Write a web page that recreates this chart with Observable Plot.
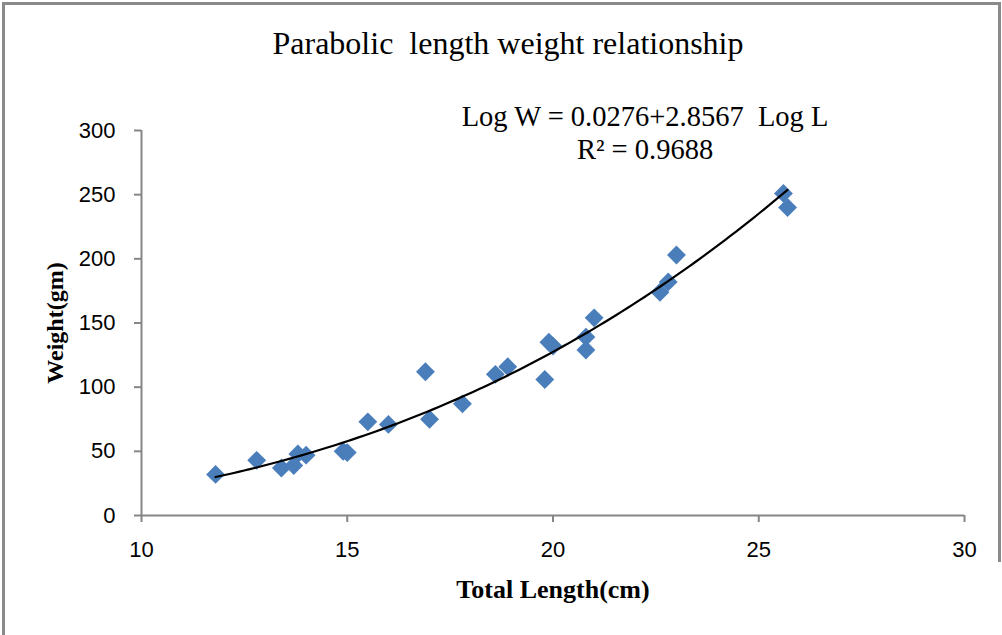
<!DOCTYPE html>
<html>
<head>
<meta charset="utf-8">
<script src="https://cdn.jsdelivr.net/npm/d3@7"></script>
<script src="https://cdn.jsdelivr.net/npm/@observablehq/plot@0.6"></script>
<style>
  html, body { margin: 0; padding: 0; background: white; }
  #wrap { position: relative; width: 1002px; height: 635px; overflow: hidden; }
  .bd { position: absolute; background: #8a8a8a; pointer-events: none; }
  svg text { white-space: pre; }
</style>
</head>
<body>
<div id="wrap">
  <div class="bd" style="left:2px; top:2px; width:998px; height:2.5px;"></div>
  <div class="bd" style="left:2px; top:2px; width:2.5px; height:640px;"></div>
  <div class="bd" style="left:998px; top:2px; width:2.5px; height:560px;"></div>
</div>
<script>
// Total length (cm) and weight (gm)
const lengths = [11.8, 12.8, 13.4, 13.7, 13.8, 14.0, 14.9, 15.0, 15.5, 16.0, 16.9, 17.0, 17.8,
                 18.6, 18.9, 19.8, 19.9, 20.0, 20.8, 20.8, 21.0, 22.6, 22.8, 23.0, 25.6, 25.7];
const weights = [32, 43, 37, 39, 48, 47, 50, 49, 73, 71, 112, 75, 87,
                 110, 116, 106, 135, 132, 139, 129, 154, 174, 182, 203, 251, 240];
const xTicks = [10, 15, 20, 25, 30];
const yTicks = [0, 50, 100, 150, 200, 250, 300];
const titleText = "Parabolic  length weight relationship";
const eqText = "Log W = 0.0276+2.8567  Log L";
const r2Text = "R² = 0.9688";
const xLabel = "Total Length(cm)";
const yLabel = "Weight(gm)";

const data = lengths.map((L, i) => ({L, W: weights[i]}));

// power trend line (least squares in log space, as a spreadsheet power trendline)
const lx = lengths.map(Math.log), ly = weights.map(Math.log);
const mx = d3.mean(lx), my = d3.mean(ly);
const b = d3.sum(lx, (v, i) => (v - mx) * (ly[i] - my)) / d3.sum(lx, v => (v - mx) ** 2);
const a = my - b * mx;
const [L0, L1] = d3.extent(lengths);
const fit = d3.range(0, 101).map(k => {
  const L = L0 + (L1 - L0) * k / 100;
  return {L, W: Math.exp(a) * Math.pow(L, b)};
});

const serif = "'Liberation Serif', 'Times New Roman', serif";
const axisColor = "#868686";

const chart = Plot.plot({
  width: 1002,
  height: 635,
  marginLeft: 141,
  marginRight: 38,
  marginTop: 130,
  marginBottom: 120,
  style: {fontFamily: "'Liberation Sans', Arial, sans-serif", fontSize: "22px", background: "white", color: "black", overflow: "visible"},
  x: {domain: [10, 30]},
  y: {domain: [0, 300]},
  marks: [
    Plot.ruleX([10], {y1: 0, y2: 300, stroke: axisColor, strokeWidth: 2}),
    Plot.ruleY([0], {x1: 10, x2: 30, stroke: axisColor, strokeWidth: 2}),
    Plot.axisX({ticks: xTicks, tickSize: 7, tickPadding: 19, stroke: axisColor, strokeWidth: 2, fill: "black", label: null, fontSize: 22}),
    Plot.axisY({ticks: yTicks, tickSize: 7, tickPadding: 19, stroke: axisColor, strokeWidth: 2, fill: "black", label: null, fontSize: 22}),
    Plot.dot(data, {x: "L", y: "W", symbol: "diamond2", r: 8.5, fill: "#4a7ebb", stroke: null}),
    Plot.line(fit, {x: "L", y: "W", stroke: "black", strokeWidth: 2.2}),
    Plot.text([titleText], {frameAnchor: "top", dx: -45, dy: -77, lineAnchor: "bottom", fontFamily: serif, fontSize: 32, fill: "black"}),
    Plot.text([eqText], {frameAnchor: "top", dx: 92, dy: -5, lineAnchor: "bottom", fontFamily: serif, fontSize: 28.5, fill: "black"}),
    Plot.text([r2Text], {frameAnchor: "top", dx: 92, dy: 28, lineAnchor: "bottom", fontFamily: serif, fontSize: 28.5, fill: "black"}),
    Plot.text([xLabel], {frameAnchor: "bottom", dx: 0, dy: 82, lineAnchor: "bottom", fontFamily: serif, fontSize: 26, fontWeight: "bold", fill: "black"}),
    Plot.text([yLabel], {frameAnchor: "left", textAnchor: "middle", dx: -79, dy: 0, rotate: -90, lineAnchor: "bottom", fontFamily: serif, fontSize: 24, fontWeight: "bold", fill: "black"})
  ]
});
document.getElementById("wrap").prepend(chart);
</script>
</body>
</html>
